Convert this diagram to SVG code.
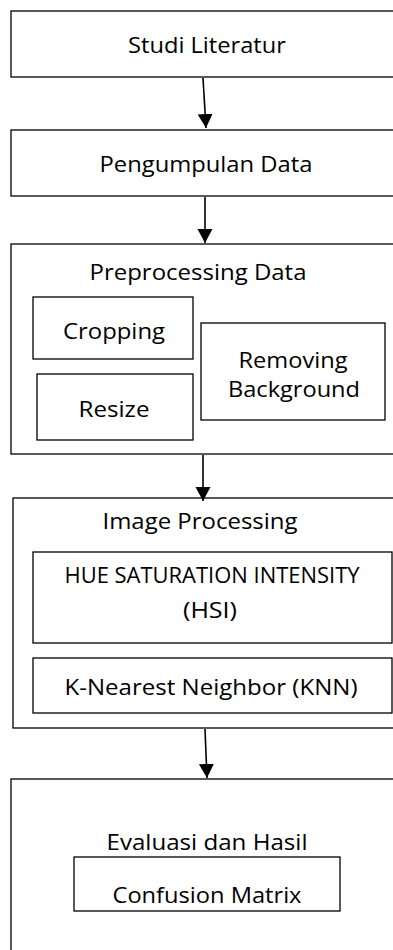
<svg xmlns="http://www.w3.org/2000/svg" width="393" height="950" viewBox="0 0 393 950">
<style>
.box{fill:#fff;stroke:#000;stroke-width:1.3}
.t{font-family:"Open Sans","Liberation Sans",sans-serif;font-size:21px;fill:#000;text-anchor:middle}
.c{stroke:#000;stroke-width:1.6;fill:none}
</style>
<defs>
<marker id="ah" markerWidth="16" markerHeight="16" refX="14" refY="7.5" orient="auto" markerUnits="userSpaceOnUse">
<path d="M0,0 L14,7.5 L0,15 Z" fill="#000"/>
</marker>
</defs>
<g id="studi">
<rect class="box" x="11" y="11" width="400" height="66"/>
<text class="t" x="207" y="53" textLength="158" lengthAdjust="spacingAndGlyphs">Studi Literatur</text>
</g>
<g id="pengumpulan">
<rect class="box" x="11" y="130" width="400" height="66"/>
<text class="t" x="206" y="172" textLength="213" lengthAdjust="spacingAndGlyphs">Pengumpulan Data</text>
</g>
<g id="preprocessing">
<rect class="box" x="11" y="244" width="400" height="210"/>
<text class="t" x="198" y="280" textLength="217" lengthAdjust="spacingAndGlyphs">Preprocessing Data</text>
</g>
<g id="cropping">
<rect class="box" x="33" y="297" width="160" height="62"/>
<text class="t" x="114" y="339" textLength="102" lengthAdjust="spacingAndGlyphs">Cropping</text>
</g>
<g id="resize">
<rect class="box" x="37" y="374" width="156" height="66"/>
<text class="t" x="114" y="417" textLength="71" lengthAdjust="spacingAndGlyphs">Resize</text>
</g>
<g id="removing">
<rect class="box" x="201" y="323" width="184" height="97"/>
<text class="t" x="293" y="368" textLength="109" lengthAdjust="spacingAndGlyphs">Removing</text>
<text class="t" x="294" y="397" textLength="132" lengthAdjust="spacingAndGlyphs">Background</text>
</g>
<g id="image-processing">
<rect class="box" x="13" y="498" width="400" height="230"/>
<text class="t" x="200" y="529" textLength="195" lengthAdjust="spacingAndGlyphs">Image Processing</text>
</g>
<g id="hsi">
<rect class="box" x="33" y="552" width="359" height="91"/>
<text class="t" x="212" y="583" textLength="295" lengthAdjust="spacingAndGlyphs">HUE SATURATION INTENSITY</text>
<text class="t" x="210" y="618" textLength="54" lengthAdjust="spacingAndGlyphs">(HSI)</text>
</g>
<g id="knn">
<rect class="box" x="33" y="658" width="359" height="55"/>
<text class="t" x="211" y="695" textLength="293" lengthAdjust="spacingAndGlyphs">K-Nearest Neighbor (KNN)</text>
</g>
<g id="evaluasi">
<rect class="box" x="11" y="779" width="400" height="200"/>
<text class="t" x="207" y="850" textLength="201" lengthAdjust="spacingAndGlyphs">Evaluasi dan Hasil</text>
</g>
<g id="confusion">
<rect class="box" x="74" y="857" width="266" height="54"/>
<text class="t" x="207" y="903" textLength="189" lengthAdjust="spacingAndGlyphs">Confusion Matrix</text>
</g>
<g id="connectors">
<line class="c" x1="203" y1="78" x2="206" y2="128" marker-end="url(#ah)"/>
<line class="c" x1="205" y1="197" x2="205" y2="243" marker-end="url(#ah)"/>
<line class="c" x1="203" y1="455" x2="203" y2="501" marker-end="url(#ah)"/>
<line class="c" x1="205" y1="729" x2="207" y2="778" marker-end="url(#ah)"/>
</g>
</svg>
